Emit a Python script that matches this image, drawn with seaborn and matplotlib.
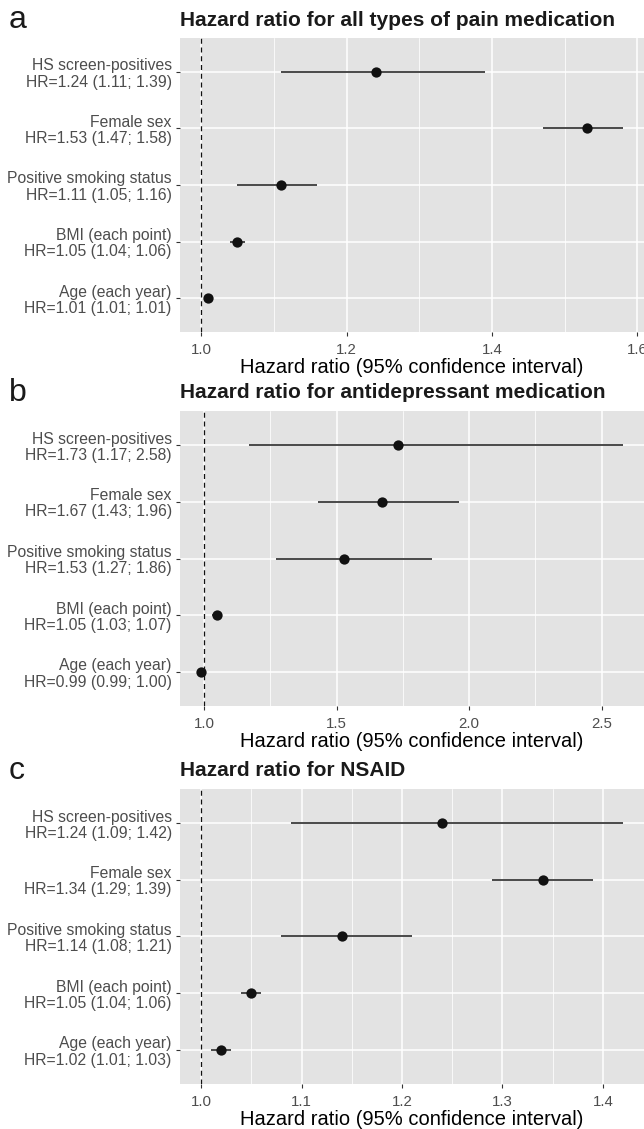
import matplotlib
matplotlib.use("Agg")
import matplotlib.pyplot as plt
import seaborn as sns
import pandas as pd
import numpy as np

# ---- data ----
factors = ["HS screen-positives", "Female sex", "Positive smoking status",
           "BMI (each point)", "Age (each year)"]

a_hr = [1.24, 1.53, 1.11, 1.05, 1.01]
a_lo = [1.11, 1.47, 1.05, 1.04, 1.01]
a_hi = [1.39, 1.58, 1.16, 1.06, 1.01]

b_hr = [1.73, 1.67, 1.53, 1.05, 0.99]
b_lo = [1.17, 1.43, 1.27, 1.03, 0.99]
b_hi = [2.58, 1.96, 1.86, 1.07, 1.00]

c_hr = [1.24, 1.34, 1.14, 1.05, 1.02]
c_lo = [1.09, 1.29, 1.08, 1.04, 1.01]
c_hi = [1.42, 1.39, 1.21, 1.06, 1.03]

titles = ["Hazard ratio for all types of pain medication",
          "Hazard ratio for antidepressant medication",
          "Hazard ratio for NSAID"]
letters = ["a", "b", "c"]
a_ticks = [1.0, 1.2, 1.4, 1.6]
b_ticks = [1.0, 1.5, 2.0, 2.5]
c_ticks = [1.0, 1.1, 1.2, 1.3, 1.4]
xlabel = "Hazard ratio (95% confidence interval)"

panels = [
    (a_hr, a_lo, a_hi, a_ticks, "{:.1f}", (0.971, 1.609)),
    (b_hr, b_lo, b_hi, b_ticks, "{:.1f}", (0.910, 2.659)),
    (c_hr, c_lo, c_hi, c_ticks, "{:.1f}", (0.979, 1.441)),
]

sns.set_theme(style="darkgrid")
FONT = ["Liberation Sans", "DejaVu Sans"]
plt.rcParams["font.family"] = FONT

W, H = 644, 1129
fig = plt.figure(figsize=(W / 100, H / 100), dpi=100)

# axes pixel boxes (top, bottom)
boxes = [(38, 332), (411, 706), (789, 1084)]
left_px, right_px = 180, 644

for i, ((hr, lo, hi, ticks, fmt, xlim), (top, bot)) in enumerate(zip(panels, boxes)):
    ax = fig.add_axes([left_px / W, 1 - bot / H, (right_px - left_px) / W, (bot - top) / H])
    ax.set_facecolor("#E3E3E3")
    labels = [f"{f}\nHR={h:.2f} ({l:.2f}; {u:.2f})" for f, h, l, u in zip(factors, hr, lo, hi)]
    n = len(factors)
    ypos = list(range(n - 1, -1, -1))
    df = pd.DataFrame({"label": labels, "hr": hr, "lo": lo, "hi": hi, "y": ypos})

    ax.hlines(df["y"], df["lo"], df["hi"], color="#2b2b2b", lw=1.2, zorder=3)
    sns.scatterplot(data=df, x="hr", y="y", ax=ax, color="#111111", s=55,
                    edgecolor="#111111", linewidth=0, zorder=4, legend=False)
    ax.axvline(1.0, color="#111111", lw=0.9, ls=(0, (4, 3)), zorder=2)

    ax.set_ylim(-0.6, n - 1 + 0.6)
    ax.set_xlim(*xlim)
    ax.set_yticks(ypos)
    ax.set_yticklabels(labels, fontsize=11.3, color="#4D4D4D", linespacing=1.1,
                       ha="right")
    ax.set_xticks(ticks)
    ax.set_xticklabels([fmt.format(t) for t in ticks], fontsize=10.8, color="#4D4D4D")
    minors = [(ticks[k] + ticks[k + 1]) / 2 for k in range(len(ticks) - 1)]
    step = ticks[1] - ticks[0]
    if ticks[0] - step / 2 > xlim[0]:
        minors.insert(0, ticks[0] - step / 2)
    if ticks[-1] + step / 2 < xlim[1]:
        minors.append(ticks[-1] + step / 2)
    ax.set_xticks(minors, minor=True)
    ax.grid(which="major", color="white", lw=1.1)
    ax.grid(which="minor", axis="x", color="white", lw=0.55)
    ax.grid(which="minor", axis="y", visible=False)
    ax.tick_params(axis="x", which="major", length=3, width=0.8, color="#333333",
                   pad=5, bottom=True)
    ax.tick_params(axis="y", which="major", length=3, width=0.8, color="#333333",
                   pad=3, left=True)
    ax.tick_params(axis="x", which="minor", length=0)
    for s in ax.spines.values():
        s.set_visible(False)
    ax.set_xlabel(xlabel, fontsize=14.5, color="black", labelpad=0.5)
    ax.set_ylabel("")
    ax.set_axisbelow(True)

    # title
    fig.text(left_px / W, 1 - (top - 18) / H, titles[i], fontsize=15, fontweight="bold",
             ha="left", va="center", color="#1a1a1a", family=FONT)
    fig.text(9 / W, 1 - (top - 18) / H, letters[i], fontsize=23, ha="left", va="center",
             color="#1a1a1a", family=FONT)

fig.savefig("out.png", dpi=100)
